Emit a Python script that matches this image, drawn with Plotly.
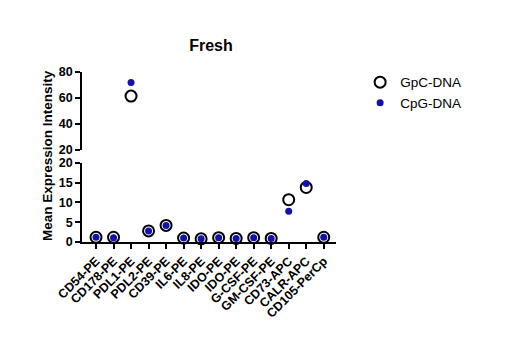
import numpy as np
import plotly.graph_objects as go

categories = ["CD54-PE", "CD178-PE", "PDL1-PE", "PDL2-PE", "CD39-PE", "IL6-PE", "IL8-PE",
              "IDO-PE", "IDO-PE", "G-CSF-PE", "GM-CSF-PE", "CD73-APC", "CALR-APC", "CD105-PerCp"]
gpc_dna = [1.2, 1.2, 61.5, 2.8, 4.2, 1.0, 0.8, 1.1, 0.9, 1.1, 0.9, 10.7, 13.8, 1.2]
cpg_dna = [1.2, 1.1, 72.0, 2.8, 4.2, 1.0, 0.8, 1.1, 0.9, 1.1, 0.9, 7.8, 14.8, 1.2]
lower_ticks = [0, 5, 10, 15, 20]
upper_ticks = [20, 40, 60, 80]

BREAK = 20
BLUE = "rgb(18,18,170)"
x = np.arange(len(categories))

def split(vals):
    v = np.array(vals, dtype=float)
    low = [val if val < BREAK else None for val in v]
    high = [val if val >= BREAK else None for val in v]
    return low, high

g_low, g_high = split(gpc_dna)
c_low, c_high = split(cpg_dna)

fig = go.Figure()
gmark = dict(symbol="circle-open", size=11, color="black", line=dict(width=2, color="black"))
cmark = dict(symbol="circle", size=7, color=BLUE)

fig.add_trace(go.Scatter(x=x, y=g_low, mode="markers", marker=gmark, name="GpC-DNA",
                         xaxis="x", yaxis="y", cliponaxis=False, showlegend=True))
fig.add_trace(go.Scatter(x=x, y=c_low, mode="markers", marker=cmark, name="CpG-DNA",
                         xaxis="x", yaxis="y", cliponaxis=False, showlegend=True))
fig.add_trace(go.Scatter(x=x, y=g_high, mode="markers", marker=gmark, name="GpC-DNA",
                         xaxis="x2", yaxis="y2", cliponaxis=False, showlegend=False))
fig.add_trace(go.Scatter(x=x, y=c_high, mode="markers", marker=cmark, name="CpG-DNA",
                         xaxis="x2", yaxis="y2", cliponaxis=False, showlegend=False))

bold_tick = dict(family="Liberation Sans", size=12.5, color="black", weight="bold")
axis_common = dict(showline=True, linecolor="black", linewidth=1.8, ticks="outside",
                   ticklen=5, tickwidth=1.8, tickcolor="black", showgrid=False, zeroline=False,
                   tickfont=bold_tick)

fig.update_layout(
    width=508, height=350,
    margin=dict(l=82, r=172, t=72, b=108),
    paper_bgcolor="white", plot_bgcolor="white",
    title=dict(text="<b>Fresh</b>", x=211 / 508, xanchor="center", y=1 - 45 / 350, yanchor="middle",
               font=dict(family="Liberation Sans", size=16, color="black")),
    xaxis=dict(**axis_common, domain=[0, 1], range=[-0.8, 13.7], anchor="y",
               tickmode="array", tickvals=list(x), ticktext=categories, tickangle=-45),
    xaxis2=dict(domain=[0, 1], range=[-0.8, 13.7], anchor="y2", visible=False, matches="x"),
    yaxis=dict(**axis_common, domain=[0, 0.465], range=[0, 20], anchor="x",
               tickmode="array", tickvals=lower_ticks),
    yaxis2=dict(**axis_common, domain=[0.541, 1], range=[20, 80], anchor="x2",
                tickmode="array", tickvals=upper_ticks),
    legend=dict(x=1.095, y=1.03, xanchor="left", yanchor="top", bgcolor="rgba(0,0,0,0)",
                font=dict(family="Liberation Sans", size=13.5, color="black"),
                tracegroupgap=4),
    annotations=[dict(text="<b>Mean Expression Intensity</b>", textangle=-90,
                      xref="paper", yref="paper", x=(47 - 82) / 254, y=(242 - 156) / 170,
                      xanchor="center", yanchor="middle",
                      showarrow=False, font=dict(family="Liberation Sans", size=13.5, color="black"))],
)

fig.write_html("out.html")
